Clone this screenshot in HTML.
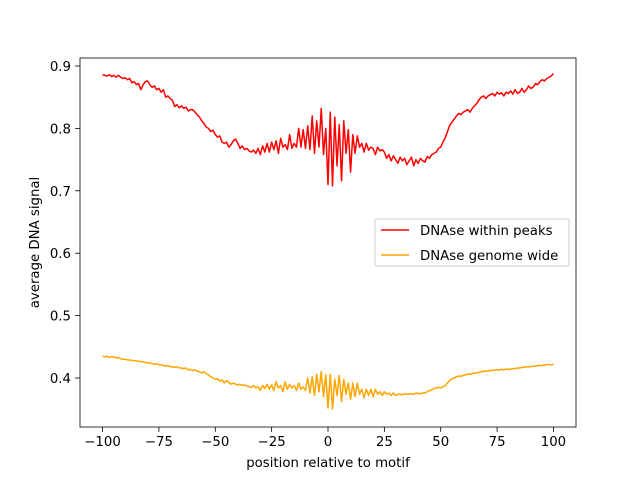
<!DOCTYPE html>
<html><head><meta charset="utf-8"><style>
body{margin:0;background:#fff;}
svg{font-family:"DejaVu Sans","Liberation Sans",sans-serif;}
</style></head><body>
<svg id="chart" width="640" height="480" xmlns="http://www.w3.org/2000/svg"></svg>
<script>
const positions = [];
for (let p = -100; p <= 100; p++) positions.push(p);
const peaksSignal = [
.886,.885,.884,.886,.883,.885,.882,.885,.882,.880,
.881,.878,.880,.873,.875,.870,.872,.862,.870,.875,
.876,.870,.866,.868,.862,.864,.858,.862,.850,.852,
.848,.845,.835,.838,.833,.836,.832,.834,.828,.830,
.830,.826,.822,.818,.812,.808,.802,.800,.795,.797,
.790,.786,.788,.778,.776,.778,.770,.774,.780,.783,
.776,.768,.772,.766,.768,.764,.762,.765,.760,.768,
.758,.772,.762,.776,.762,.778,.766,.780,.760,.784,
.770,.774,.766,.790,.768,.776,.770,.800,.770,.798,
.768,.804,.766,.820,.760,.812,.770,.832,.758,.800,
.710,.826,.708,.818,.740,.806,.716,.812,.760,.798,
.730,.790,.760,.788,.770,.776,.762,.776,.765,.770,
.768,.758,.770,.764,.766,.762,.752,.758,.748,.756,
.750,.744,.754,.748,.752,.742,.748,.754,.740,.750,
.744,.752,.748,.746,.755,.752,.758,.760,.762,.768,
.770,.778,.785,.795,.805,.810,.815,.820,.824,.822,
.826,.828,.830,.826,.832,.836,.840,.846,.850,.852,
.848,.852,.854,.856,.852,.858,.855,.857,.852,.858,
.856,.860,.855,.862,.856,.858,.864,.858,.862,.868,
.864,.866,.872,.870,.875,.878,.876,.880,.882,.884,
.888];
const genomeSignal = [
.435,.434,.435,.433,.434,.434,.432,.433,.431,.430,
.430,.429,.429,.428,.428,.427,.427,.426,.426,.425,
.424,.424,.423,.422,.423,.421,.421,.420,.419,.420,
.418,.418,.417,.418,.416,.416,.415,.416,.413,.414,
.412,.413,.411,.410,.408,.410,.407,.405,.402,.400,
.398,.399,.395,.397,.392,.396,.393,.390,.392,.390,
.389,.390,.388,.389,.387,.386,.385,.388,.384,.386,
.380,.388,.383,.390,.382,.389,.380,.394,.384,.388,
.378,.394,.382,.390,.384,.388,.380,.392,.382,.386,
.380,.400,.376,.402,.372,.406,.378,.410,.370,.405,
.352,.406,.350,.398,.372,.404,.362,.398,.374,.392,
.366,.392,.370,.392,.374,.382,.368,.382,.372,.382,
.370,.382,.374,.378,.372,.378,.374,.376,.372,.376,
.372,.374,.374,.373,.375,.374,.374,.375,.374,.376,
.375,.375,.376,.376,.378,.380,.381,.383,.384,.385,
.384,.386,.388,.392,.396,.399,.400,.402,.403,.403,
.404,.405,.406,.406,.407,.408,.408,.409,.410,.411,
.411,.411,.412,.412,.413,.413,.413,.414,.413,.414,
.414,.414,.415,.415,.416,.416,.417,.417,.418,.418,
.418,.419,.419,.420,.420,.420,.421,.421,.422,.421,
.422];
const xTicks = [-100,-75,-50,-25,0,25,50,75,100];
const yTicks = [0.4,0.5,0.6,0.7,0.8,0.9];
const yTickLabels = ["0.4","0.5","0.6","0.7","0.8","0.9"];

const L=80,R=576,T=58,B=427;
const xMin=-110,xMax=110,yMin=0.3215,yMax=0.9128;
const X=v=>L+(v-xMin)/(xMax-xMin)*(R-L);
const Y=v=>B-(v-yMin)/(yMax-yMin)*(B-T);
const svg=document.getElementById('chart');
const NS='http://www.w3.org/2000/svg';
const FS=13.3;
function mk(tag,attrs,parent){const e=document.createElementNS(NS,tag);for(const k in attrs)e.setAttribute(k,attrs[k]);(parent||svg).appendChild(e);return e;}

function series(vals,color,name){
  const d=vals.map((v,i)=>(i?'L':'M')+X(positions[i]).toFixed(2)+','+Y(v).toFixed(2)).join('');
  const p=mk('path',{d:d,fill:'none',stroke:color,'stroke-width':1.5,'stroke-linejoin':'round'});
  
  
}
series(peaksSignal,'#ff0000','line-dnase-within-peaks');
series(genomeSignal,'#ffa500','line-dnase-genome-wide');

const frame=mk('rect',{x:L,y:T,width:R-L,height:B-T,fill:'none',stroke:'#000','stroke-width':0.8});



xTicks.forEach(t=>{
  const x=X(t);
  mk('line',{x1:x,x2:x,y1:B,y2:B+4.9,stroke:'#000','stroke-width':0.8});
  const tx=mk('text',{x:x,y:B+19,'text-anchor':'middle','font-size':FS});
  tx.textContent=String(t).replace('-','\u2212');
  
  
});
yTicks.forEach((t,i)=>{
  const y=Y(t);
  mk('line',{x1:L-4.9,x2:L,y1:y,y2:y,stroke:'#000','stroke-width':0.8});
  const tx=mk('text',{x:L-9,y:y+5,'text-anchor':'end','font-size':FS});
  tx.textContent=yTickLabels[i];
  
  
});
const xt=mk('text',{x:(L+R)/2,y:467,'text-anchor':'middle','font-size':FS});
xt.textContent='position relative to motif';


const yt=mk('text',{x:39,y:(T+B)/2,'text-anchor':'middle','font-size':FS,transform:'rotate(-90 39 '+((T+B)/2)+')'});
yt.textContent='average DNA signal';



const lg=mk('g',{});


mk('rect',{x:375,y:219,width:194,height:47,rx:2,fill:'#fff','fill-opacity':0.8,stroke:'#ccc','stroke-width':1},lg);
[['DNAse within peaks','#ff0000',230],['DNAse genome wide','#ffa500',255]].forEach(([lab,c,y])=>{
  const g=mk('g',{},lg);
  
  
  mk('line',{x1:381,x2:409,y1:y,y2:y,stroke:c,'stroke-width':1.5},g);
  const t=mk('text',{x:420,y:y+5,'font-size':FS},g);
  t.textContent=lab;
});
</script>
</body></html>
